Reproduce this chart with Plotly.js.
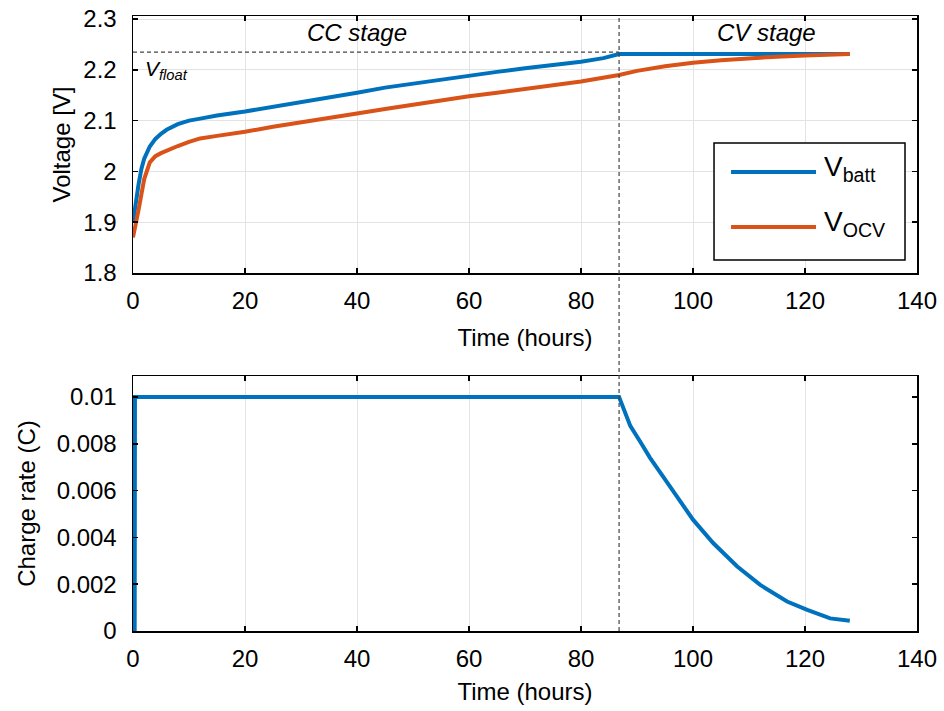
<!DOCTYPE html>
<html>
<head>
<meta charset="utf-8">
<script src="https://cdn.plot.ly/plotly-3.0.1.min.js"></script>
<style>html,body{margin:0;padding:0;background:#fff;}#chart{width:944px;height:711px;}</style>
</head>
<body>
<div id="chart"></div>
<script>
// ---- data ----
const tBatt = [0, 0.5, 1, 1.5, 2, 3, 4, 5, 6, 8, 10, 12, 15, 20, 25, 30, 35, 40, 45, 50, 55, 60, 65, 70, 75, 80, 84, 86.8, 90, 100, 110, 120, 128];
const vBatt = [1.90, 1.94, 1.975, 2.005, 2.025, 2.049, 2.064, 2.074, 2.082, 2.093, 2.100, 2.104, 2.110, 2.118, 2.127, 2.136, 2.145, 2.155, 2.165, 2.173, 2.181, 2.189, 2.196, 2.203, 2.209, 2.216, 2.223, 2.231, 2.231, 2.231, 2.231, 2.231, 2.231];

const tOcv = [0, 0.5, 1, 1.5, 2, 3, 4, 5, 6, 8, 10, 12, 15, 20, 25, 30, 35, 40, 45, 50, 55, 60, 65, 70, 75, 80, 86.8, 90, 95, 100, 105, 110, 115, 120, 124, 125, 128];
const vOcv = [1.870, 1.895, 1.925, 1.955, 1.985, 2.018, 2.030, 2.036, 2.041, 2.050, 2.058, 2.065, 2.070, 2.078, 2.088, 2.096, 2.104, 2.114, 2.123, 2.132, 2.140, 2.148, 2.155, 2.162, 2.170, 2.177, 2.190, 2.198, 2.207, 2.214, 2.219, 2.223, 2.226, 2.228, 2.229, 2.231, 2.231];

const tRate = [0.3, 0.35, 86.8, 88.8, 90.5, 92.3, 94.6, 97.7, 100, 103.6, 107.9, 112, 116.8, 120.4, 124.5, 128];
const cRate = [0, 0.01, 0.01, 0.00877, 0.00812, 0.00741, 0.00662, 0.00555, 0.00476, 0.00376, 0.00276, 0.00197, 0.00126, 0.0009, 0.00054, 0.00044];

const vFloat = 2.235;
const tSwitch = 86.8;

const seriesNames = ["V<sub>batt</sub>", "V<sub>OCV</sub>"];
const xTicks = [0, 20, 40, 60, 80, 100, 120, 140];
const yTopTicks = [1.8, 1.9, 2.0, 2.1, 2.2, 2.3];
const yTopLabels = ["1.8", "1.9", "2", "2.1", "2.2", "2.3"];
const yBotTicks = [0, 0.002, 0.004, 0.006, 0.008, 0.01];
const yBotLabels = ["0", "0.002", "0.004", "0.006", "0.008", "0.01"];

const FONT = "Liberation Sans, Arial, Helvetica, sans-serif";
const BLUE = "#0072BD", ORANGE = "#D95319", GRID = "#e3e3e3";
const FS = 24;

const traces = [
  {x: tBatt, y: vBatt, type: "scatter", mode: "lines", name: seriesNames[0], showlegend: false,
   line: {color: BLUE, width: 4}, xaxis: "x", yaxis: "y"},
  {x: tOcv, y: vOcv, type: "scatter", mode: "lines", name: seriesNames[1], showlegend: false,
   line: {color: ORANGE, width: 4}, xaxis: "x", yaxis: "y"},
  {x: tRate, y: cRate, type: "scatter", mode: "lines", name: "rate", showlegend: false,
   line: {color: BLUE, width: 4}, xaxis: "x2", yaxis: "y2"}
];

const axisCommon = {
  showline: true, linecolor: "#000", linewidth: 1.5, mirror: "ticks",
  ticks: "inside", ticklen: 5, tickcolor: "#000", tickwidth: 1.5,
  gridcolor: GRID, gridwidth: 1, zeroline: false,
  tickfont: {family: FONT, size: FS, color: "#000"}
};

// legend box geometry (paper coordinates)
const LG = {x0: 0.7411, x1: 0.9847, y0: 0.6033, y1: 0.7935,
            lx0: 0.7628, lx1: 0.8712, ly: [0.7463, 0.6569], tx: 0.879};

const shapes = [
  {type: "line", xref: "x", yref: "paper", x0: tSwitch, x1: tSwitch, y0: 0, y1: 1,
   line: {color: "#444", width: 1.2, dash: "4px,3px"}},
  {type: "line", xref: "x", yref: "y", x0: 0, x1: tSwitch, y0: vFloat, y1: vFloat,
   line: {color: "#444", width: 1.2, dash: "4px,3px"}},
  {type: "rect", xref: "paper", yref: "paper", x0: LG.x0, x1: LG.x1, y0: LG.y0, y1: LG.y1,
   line: {color: "#000", width: 1.5}, fillcolor: "#fff", layer: "above"},
  {type: "line", xref: "paper", yref: "paper", x0: LG.lx0, x1: LG.lx1, y0: LG.ly[0], y1: LG.ly[0],
   line: {color: BLUE, width: 4}, layer: "above"},
  {type: "line", xref: "paper", yref: "paper", x0: LG.lx0, x1: LG.lx1, y0: LG.ly[1], y1: LG.ly[1],
   line: {color: ORANGE, width: 4}, layer: "above"}
];

const annotations = [
  {xref: "x", yref: "y", x: 40, y: 2.273, text: "<i>CC stage</i>", showarrow: false,
   font: {family: FONT, size: FS}},
  {xref: "x", yref: "y", x: 113.2, y: 2.273, text: "<i>CV stage</i>", showarrow: false,
   font: {family: FONT, size: FS}},
  {xref: "x", yref: "y", x: 1.8, y: 2.2, xanchor: "left", text: "<i>V<sub>float</sub></i>", showarrow: false,
   font: {family: FONT, size: 21}},
  {xref: "paper", yref: "paper", x: LG.tx, y: LG.ly[0] + 0.005, xanchor: "left", yanchor: "middle",
   text: seriesNames[0], showarrow: false, font: {family: FONT, size: 28}},
  {xref: "paper", yref: "paper", x: LG.tx, y: LG.ly[1] + 0.005, xanchor: "left", yanchor: "middle",
   text: seriesNames[1], showarrow: false, font: {family: FONT, size: 28}}
];

const layout = {
  width: 944, height: 711,
  margin: {l: 133, r: 27, t: 16, b: 80},
  paper_bgcolor: "#fff", plot_bgcolor: "#fff",
  font: {family: FONT, color: "#000"},
  showlegend: false,
  xaxis: Object.assign({}, axisCommon, {domain: [0, 1], anchor: "y", range: [0, 140],
    tickvals: xTicks, ticklabelstandoff: 6,
    title: {text: "Time (hours)", font: {family: FONT, size: FS}, standoff: 16}}),
  yaxis: Object.assign({}, axisCommon, {domain: [0.5821, 1], anchor: "x", range: [1.8, 2.306],
    tickvals: yTopTicks, ticktext: yTopLabels, ticklabelstandoff: 10,
    title: {text: "Voltage [V]", font: {family: FONT, size: FS}, standoff: 6}}),
  xaxis2: Object.assign({}, axisCommon, {domain: [0, 1], anchor: "y2", range: [0, 140],
    tickvals: xTicks, ticklabelstandoff: 6,
    title: {text: "Time (hours)", font: {family: FONT, size: FS}, standoff: 12}}),
  yaxis2: Object.assign({}, axisCommon, {domain: [0, 0.4146], anchor: "x2", range: [0, 0.0109],
    tickvals: yBotTicks, ticktext: yBotLabels, showgrid: false, ticklabelstandoff: 10,
    title: {text: "Charge rate (C)", font: {family: FONT, size: FS}, standoff: 14}}),
  yaxis3: {overlaying: "y2", anchor: "x2", range: [0, 0.0109], dtick: 0.005, tick0: 0,
    showgrid: true, gridcolor: GRID, showticklabels: false, ticks: "", showline: false, zeroline: false},
  shapes: shapes,
  annotations: annotations
};

Plotly.newPlot("chart", traces, layout, {displayModeBar: false, staticPlot: true});
</script>
</body>
</html>
